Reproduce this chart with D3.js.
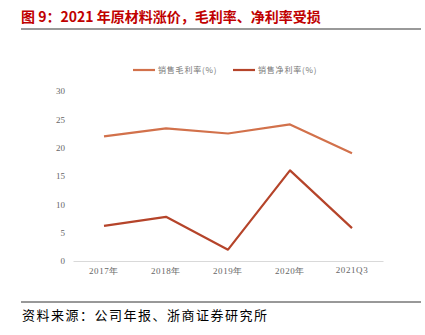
<!DOCTYPE html>
<html><head><meta charset="utf-8">
<script src="https://cdn.jsdelivr.net/npm/d3@7"></script>
<style>body{margin:0;background:#fff}svg{display:block}</style>
</head><body>
<svg id="c" width="425" height="335"></svg>
<script>
const categories = ["2017年","2018年","2019年","2020年","2021Q3"];
const grossMargin = [22.0, 23.4, 22.5, 24.1, 19.0];
const netMargin = [6.2, 7.8, 2.0, 16.0, 5.8];
const yTicks = [0,5,10,15,20,25,30];
const seriesNames = ["销售毛利率(%)","销售净利率(%)"];
const colors = ["#D2714B","#B5442A"];

const svg = d3.select("#c");
const cjk = "'Noto Sans CJK SC', sans-serif";
const serif = "'Liberation Serif', 'DejaVu Serif', serif";

svg.append("text").attr("x",21).attr("y",22)
  .attr("font-family","'Noto Sans CJK SC', Arial, sans-serif").attr("font-weight","bold")
  .attr("font-size",14).attr("fill","#C00000")
  .text("图 9：2021 年原材料涨价，毛利率、净利率受损");
svg.append("line").attr("x1",21).attr("x2",421).attr("y1",29).attr("y2",29)
  .attr("stroke","#999").attr("stroke-width",2);

const x = d3.scaleBand().domain(categories).range([73,383]);
const y = d3.scaleLinear().domain([0,30]).range([261,91]);

const yAxis = svg.append("g").attr("transform","translate(73,0)")
  .call(d3.axisLeft(y).tickValues(yTicks).tickSize(0).tickPadding(8));
yAxis.select(".domain").remove();
yAxis.selectAll("text").attr("font-family",serif).attr("font-size",9).attr("fill","#666");

const xAxis = svg.append("g").attr("transform","translate(0,261)")
  .call(d3.axisBottom(x).tickSize(0).tickPadding(7));
xAxis.select(".domain").attr("stroke","#d9d9d9");
xAxis.selectAll("text").attr("font-family",serif).attr("font-size",9).attr("fill","#666")
  .attr("letter-spacing",0.6)
  .attr("dy", (d)=> d==="2021Q3" ? "0.5em" : "0.71em");

const cx = d => x(d) + x.bandwidth()/2;
const line = d3.line().x((d,i)=>cx(categories[i])).y(d=>y(d));
svg.append("path").attr("d",line(grossMargin)).attr("fill","none")
  .attr("stroke",colors[0]).attr("stroke-width",2.2).attr("stroke-linejoin","round");
svg.append("path").attr("d",line(netMargin)).attr("fill","none")
  .attr("stroke",colors[1]).attr("stroke-width",2.2).attr("stroke-linejoin","round");

const legX = [133,233];
seriesNames.forEach((n,i)=>{
  svg.append("line").attr("x1",legX[i]).attr("x2",legX[i]+22).attr("y1",70).attr("y2",70)
    .attr("stroke",colors[i]).attr("stroke-width",2.2);
  svg.append("text").attr("x",legX[i]+25).attr("y",73).attr("font-family",cjk)
    .attr("font-size",8).attr("letter-spacing",0.8).attr("fill","#777").text(n);
});

svg.append("line").attr("x1",21).attr("x2",421).attr("y1",302).attr("y2",302)
  .attr("stroke","#333").attr("stroke-width",1);
svg.append("text").attr("x",22).attr("y",320).attr("font-family",cjk)
  .attr("font-size",13).attr("letter-spacing",1.5).attr("fill","#000").text("资料来源：公司年报、浙商证券研究所");
</script>
</body></html>
